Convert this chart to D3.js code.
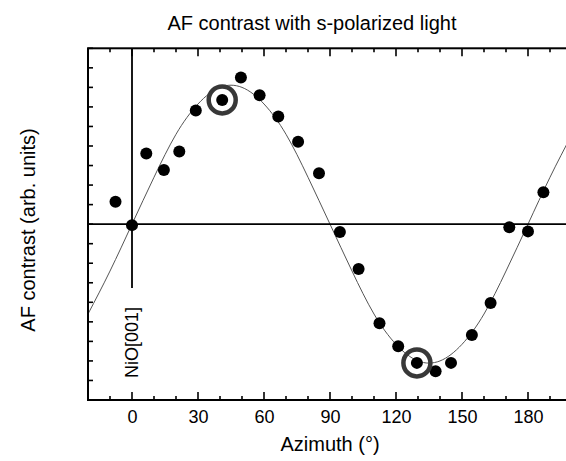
<!DOCTYPE html>
<meta charset="utf-8">
<head>
  <title>AF contrast with s-polarized light</title>
</head>

<style>
body {
  margin: 0;
  background: #fff;
}
svg {
  display: block;
  font-family: Arial, "Liberation Sans", Helvetica, sans-serif;
}
text {
  fill: #000;
}
</style>

<body>
  <svg width="566" height="461"></svg>

  <script src="https://cdnjs.cloudflare.com/ajax/libs/d3/7.8.5/d3.min.js"></script>

  <script>
  // measured points (azimuth in degrees, contrast in arb. units)
  var azimuth = [-7.5, 0, 6.5, 14.5, 21.5, 29, 41, 49.5, 58, 66.5, 75.5, 85,
                 94.5, 103, 112.5, 121, 129.5, 138, 145, 154.5, 163, 171.5, 180, 187];
  var contrast = [1.15, -0.05, 3.62, 2.77, 3.72, 5.82, 6.36, 7.5, 6.6, 5.51, 4.22, 2.6,
                  -0.4, -2.29, -5.07, -6.25, -7.1, -7.53, -7.1, -5.67, -4.03, -0.16, -0.37, 1.63];
  // the two circled points
  var circled = [6, 16];

  var fitAzimuth = [-20, -10, 0, 10, 20, 30, 40, 50, 60, 70, 80, 90, 100,
                    110, 120, 130, 140, 150, 160, 170, 180, 190, 200];
  var fitContrast = [-4.6, -2.4, 0, 2.4, 4.6, 6.15, 7.0, 7.0, 6.15, 4.6, 2.4, 0, -2.4,
                     -4.6, -6.15, -7.0, -7.0, -6.15, -4.6, -2.4, 0, 2.4, 4.6];

  var xTicks = [0, 30, 60, 90, 120, 150, 180];

  var x = d3.scaleLinear().domain([-20, 200]).range([88, 572]);
  var y = d3.scaleLinear().domain([-9, 9]).range([400, 48.3]);

  var svg = d3.select('svg');

  svg.append('clipPath')
    .attr('id', 'plot-clip')
    .append('rect')
    .attr('x', x(-20)).attr('y', y(9))
    .attr('width', x(200) - x(-20)).attr('height', y(-9) - y(9));

  // minor + major ticks on bottom and top
  var minorX = d3.range(-20, 201, 10);
  var yTicks = d3.range(-9, 10, 1);

  var bottom = svg.append('g')
    .attr('transform', 'translate(0,' + y(-9) + ')')
    .call(d3.axisBottom(x).tickValues(xTicks).tickSize(0).tickPadding(0).tickFormat(d3.format('d')));
  bottom.select('.domain').remove();
  bottom.selectAll('text')
    .attr('y', 23)
    .attr('dy', 0)
    .style('font-size', '18px')
    .style('font-family', 'Arial, "Liberation Sans", sans-serif')
    .attr('fill', '#000');

  var tickG = svg.append('g').attr('stroke', '#000').attr('stroke-width', 1.6);

  tickG.selectAll('line.bx')
    .data(minorX)
    .enter()
    .append('line')
    .attr('x1', function(d) { return x(d); })
    .attr('x2', function(d) { return x(d); })
    .attr('y1', y(-9))
    .attr('y2', function(d) { return y(-9) - (d % 30 === 0 ? 8 : 4); });

  tickG.selectAll('line.tx')
    .data(minorX)
    .enter()
    .append('line')
    .attr('x1', function(d) { return x(d); })
    .attr('x2', function(d) { return x(d); })
    .attr('y1', y(9))
    .attr('y2', function(d) { return y(9) + (d % 30 === 0 ? 8 : 4); });

  tickG.selectAll('line.ly')
    .data(yTicks)
    .enter()
    .append('line')
    .attr('x1', x(-20))
    .attr('x2', x(-20) + 5)
    .attr('y1', function(d) { return y(d); })
    .attr('y2', function(d) { return y(d); });

  // fitted curve
  var line = d3.line()
    .x(function(d, i) { return x(fitAzimuth[i]); })
    .y(function(d) { return y(d); })
    .curve(d3.curveNatural);

  svg.append('path')
    .datum(fitContrast)
    .attr('clip-path', 'url(#plot-clip)')
    .attr('d', line)
    .attr('fill', 'none')
    .attr('stroke', '#555')
    .attr('stroke-width', 1);

  // zero line and NiO[001] marker
  svg.append('line')
    .attr('x1', x(-20)).attr('x2', x(200))
    .attr('y1', y(0)).attr('y2', y(0))
    .attr('stroke', '#000').attr('stroke-width', 1.8);

  svg.append('line')
    .attr('x1', x(0)).attr('x2', x(0))
    .attr('y1', y(9)).attr('y2', y(-3.27))
    .attr('stroke', '#000').attr('stroke-width', 1.8);

  svg.append('text')
    .attr('transform', 'translate(' + (x(0) + 6) + ',' + y(-7.87) + ') rotate(-90)')
    .style('font-size', '18px')
    .text('NiO[001]');

  // frame
  svg.append('rect')
    .attr('x', x(-20)).attr('y', y(9))
    .attr('width', x(200) - x(-20)).attr('height', y(-9) - y(9))
    .attr('fill', 'none')
    .attr('stroke', '#000')
    .attr('stroke-width', 2);

  // points
  svg.selectAll('circle.pt')
    .data(contrast)
    .enter()
    .append('circle')
    .attr('class', 'pt')
    .attr('cx', function(d, i) { return x(azimuth[i]); })
    .attr('cy', function(d) { return y(d); })
    .attr('r', 6)
    .attr('fill', '#000');

  svg.selectAll('circle.ring')
    .data(circled)
    .enter()
    .append('circle')
    .attr('class', 'ring')
    .attr('cx', function(d) { return x(azimuth[d]); })
    .attr('cy', function(d) { return y(contrast[d]); })
    .attr('r', 13.5)
    .attr('fill', 'none')
    .attr('stroke', '#383838')
    .attr('stroke-width', 4.5);

  // titles
  svg.append('text')
    .attr('x', 312).attr('y', 30)
    .attr('text-anchor', 'middle')
    .style('font-size', '20px')
    .text('AF contrast with s-polarized light');

  svg.append('text')
    .attr('x', 330).attr('y', 451)
    .attr('text-anchor', 'middle')
    .style('font-size', '20px')
    .text('Azimuth (°)');

  svg.append('text')
    .attr('transform', 'translate(35,230) rotate(-90)')
    .attr('text-anchor', 'middle')
    .style('font-size', '20px')
    .text('AF contrast (arb. units)');
  </script>
</body>
</html>
